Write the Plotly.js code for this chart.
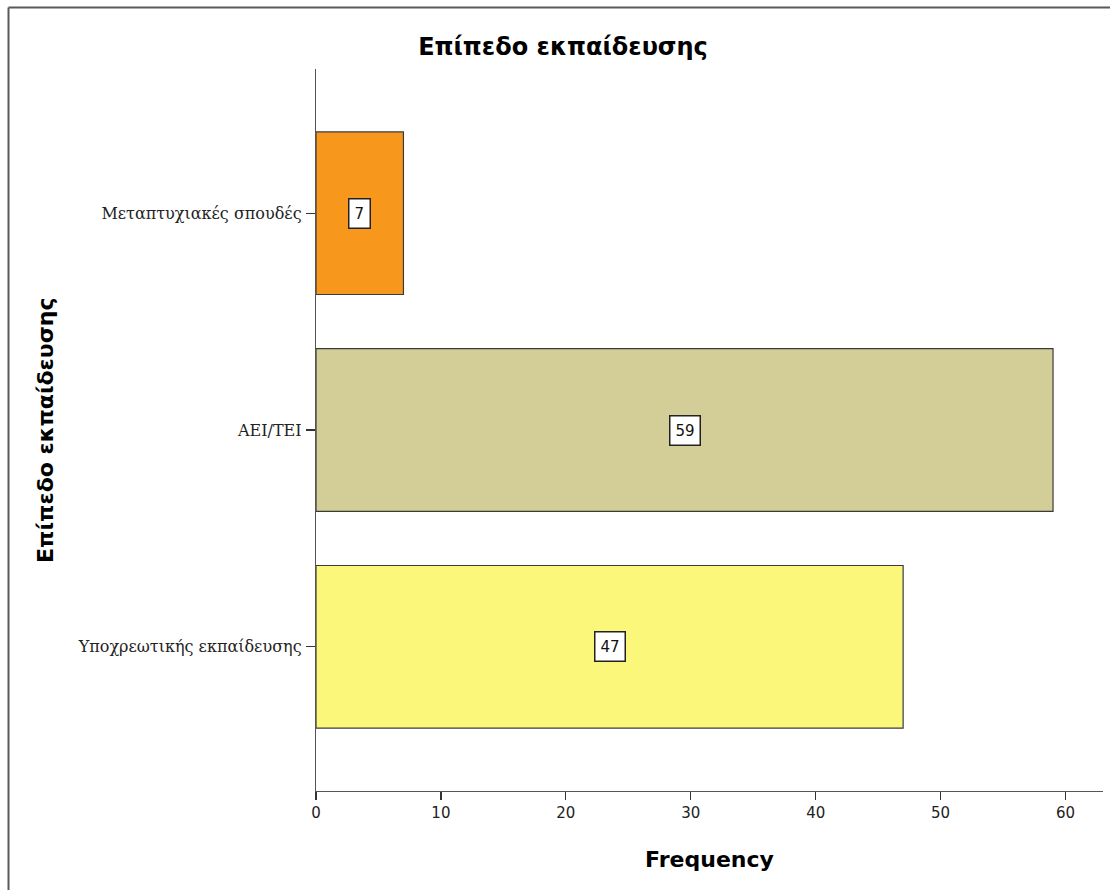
<!DOCTYPE html>
<html>
<head>
<meta charset="utf-8">
<script src="https://cdn.plot.ly/plotly-3.0.1.min.js"></script>
<style>
  html, body { margin: 0; padding: 0; background: #fff; }
  #chart { width: 1110px; height: 890px; }
</style>
</head>
<body>
<div id="chart"></div>
<script>
// Data (top-to-bottom order as shown)
var categories = ['Μεταπτυχιακές σπουδές', 'ΑΕΙ/ΤΕΙ', 'Υποχρεωτικής εκπαίδευσης'];
var frequencies = [7, 59, 47];
var barColors = ['#f7981d', '#d3ce98', '#faf77b'];
var xTickValues = [0, 10, 20, 30, 40, 50, 60];

var chartTitle = 'Επίπεδο εκπαίδευσης';
var xTitle = 'Frequency';
var yTitle = 'Επίπεδο εκπαίδευσης';

var trace = {
  type: 'bar',
  orientation: 'h',
  y: categories,
  x: frequencies,
  marker: { color: barColors, line: { color: '#3a3a3a', width: 1.2 } },
  hoverinfo: 'x+y'
};

var L = 316, R = 7, T = 69, B = 99, W = 1110, H = 890;
var pw = W - L - R, ph = H - T - B;
function px2x(p) { return (p - L) / pw; }
function py2y(p) { return 1 - (p - T) / ph; }

var annotations = categories.map(function (c, i) {
  return {
    x: frequencies[i] / 2, y: c, xref: 'x', yref: 'y',
    text: String(frequencies[i]), showarrow: false,
    font: { family: 'DejaVu Sans, sans-serif', size: 15, color: '#111' },
    bgcolor: '#ffffff', bordercolor: '#222', borderwidth: 1.5, borderpad: 5
  };
});
annotations.push({
  x: px2x(45), y: 0.5, xref: 'paper', yref: 'paper',
  xanchor: 'center', yanchor: 'middle', textangle: -90,
  text: yTitle, showarrow: false,
  font: { family: 'DejaVu Sans, sans-serif', size: 22, color: '#000', weight: 'bold' }
});

var shapes = [
  { type: 'line', xref: 'paper', yref: 'paper', x0: px2x(8.5), x1: px2x(8.5), y0: py2y(7.5), y1: py2y(900), line: { color: '#5a5a5a', width: 2 } },
  { type: 'line', xref: 'paper', yref: 'paper', x0: px2x(8.5), x1: px2x(1120), y0: py2y(7.5), y1: py2y(7.5), line: { color: '#5a5a5a', width: 2 } }
];

var layout = {
  width: W, height: H,
  margin: { l: L, r: R, t: T, b: B, pad: 0 },
  paper_bgcolor: '#ffffff', plot_bgcolor: '#ffffff',
  showlegend: false,
  bargap: 0.25,
  title: {
    text: chartTitle,
    font: { family: 'DejaVu Sans, sans-serif', size: 24, color: '#000', weight: 'bold' },
    x: 563 / W, xref: 'container', xanchor: 'center',
    y: 1 - 47 / H, yref: 'container', yanchor: 'middle'
  },
  xaxis: {
    range: [0, 63],
    tickvals: xTickValues,
    ticktext: xTickValues.map(String),
    showgrid: false, zeroline: false,
    showline: true, linecolor: '#555', linewidth: 1.2,
    ticks: 'outside', ticklen: 8, tickwidth: 1.2, tickcolor: '#333',
    tickfont: { family: 'DejaVu Sans, sans-serif', size: 15, color: '#222' },
    title: { text: xTitle, standoff: 30, font: { family: 'DejaVu Sans, sans-serif', size: 22, color: '#000', weight: 'bold' } },
    automargin: false,
    fixedrange: true
  },
  yaxis: {
    type: 'category',
    range: [2.665, -0.665],
    showgrid: false, zeroline: false,
    showline: true, linecolor: '#555', linewidth: 1.2,
    ticks: 'outside', ticklen: 9, tickwidth: 1.2, tickcolor: '#333',
    tickfont: { family: 'DejaVu Serif, Liberation Serif, serif', size: 16, color: '#222' },
    ticklabelstandoff: 1,
    automargin: false,
    fixedrange: true
  },
  annotations: annotations,
  shapes: shapes
};

Plotly.newPlot('chart', [trace], layout, { displayModeBar: false, staticPlot: true });
</script>
</body>
</html>
